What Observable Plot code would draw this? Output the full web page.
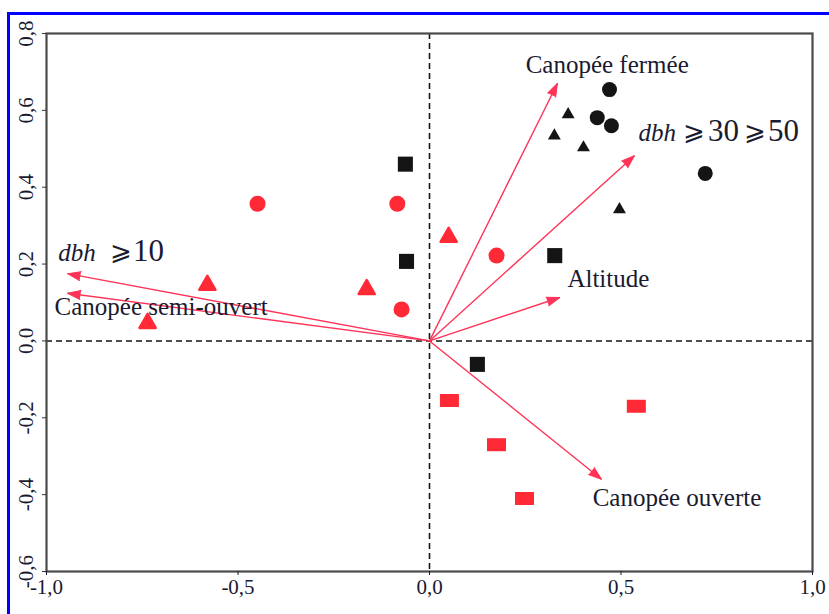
<!DOCTYPE html>
<html>
<head>
<meta charset="utf-8">
<script src="https://cdn.jsdelivr.net/npm/d3@7"></script>
<script src="https://cdn.jsdelivr.net/npm/@observablehq/plot@0.6"></script>
<style>
  html, body { margin: 0; padding: 0; background: #fff; }
  #wrap { position: relative; width: 829px; height: 614px; overflow: hidden; }
  #border { position: absolute; left: 7px; top: 12px; right: -20px; bottom: -20px;
            border-left: 3px solid #0000ff; border-top: 3px solid #0000ff; pointer-events: none; }
</style>
</head>
<body>
<div id="wrap"><div id="border"></div></div>
<script>
// ---- data ----
const xTicks = [-1, -0.5, 0, 0.5, 1];
const yTicks = [-0.6, -0.4, -0.2, 0, 0.2, 0.4, 0.6, 0.8];

const blackCircles   = [[0.47, 0.654], [0.438, 0.581], [0.475, 0.56], [0.72, 0.436]];
const blackTriangles = [[0.362, 0.589], [0.326, 0.534], [0.402, 0.503], [0.496, 0.342]];
const blackSquares   = [[-0.063, 0.46], [-0.06, 0.207], [0.327, 0.222], [0.125, -0.061]];
const redCircles     = [[-0.449, 0.357], [-0.084, 0.357], [0.175, 0.222], [-0.073, 0.082]];
const redTriangles   = [[-0.736, 0.046], [-0.58, 0.145], [-0.164, 0.134], [0.05, 0.27]];
const redSquares     = [[0.052, -0.155], [0.54, -0.17], [0.175, -0.27], [0.248, -0.41]];

const vectorNames = ["Canopée fermée", "dbh ⩾30 ⩾50", "Altitude", "Canopée ouverte", "dbh ⩾10", "Canopée semi-ouvert"];
const vectorX = [0.334, 0.535, 0.34, 0.449, -0.945, -0.945];
const vectorY = [0.670, 0.482, 0.113, -0.360, 0.175, 0.124];

// annotation anchors (data units, left-aligned)
const plainLabels = ["Canopée fermée", "Altitude", "Canopée ouverte", "Canopée semi-ouvert"];
const plainLabelX = [0.251, 0.360, 0.426, -0.979];
const plainLabelY = [0.717, 0.162, -0.410, 0.087];
const dbhLabelX = [0.546, -0.969];
const dbhLabelY = [0.547, 0.235];
const geqX = [0.662, 0.820, -0.834];
const geqY = [0.547, 0.547, 0.235];
const numText = ["30", "50", "10"];
const numX = [0.727, 0.884, -0.774];
const numY = [0.547, 0.547, 0.235];

// ---- build ----
const pts = a => a.map(([x, y]) => ({x, y}));
const vectors = vectorNames.map((name, i) => ({name, x: vectorX[i], y: vectorY[i]}));
const plain = plainLabels.map((t, i) => ({t, x: plainLabelX[i], y: plainLabelY[i]}));
const dbh = dbhLabelX.map((x, i) => ({x, y: dbhLabelY[i]}));
const geq = geqX.map((x, i) => ({x, y: geqY[i]}));
const nums = numText.map((t, i) => ({t, x: numX[i], y: numY[i]}));

const RED = "#ff2a36";
const ARROW = "#ff3358";
const BLACK = "#141414";
const TXT = "#1a1a30";
const fmt = d => d.toFixed(1).replace(".", ",");

const rectSymbol = { draw(ctx) { ctx.rect(-9.5, -6.5, 19, 13); } };

const chart = Plot.plot({
  width: 829,
  height: 614,
  marginLeft: 46,
  marginRight: 17,
  marginTop: 33,
  marginBottom: 43,
  x: {domain: [-1, 1], label: null},
  y: {domain: [-0.6, 0.8], label: null},
  style: {fontFamily: "'Liberation Serif', 'Times New Roman', serif", background: "transparent", color: "#333"},
  marks: [
    Plot.ruleX([0], {stroke: BLACK, strokeWidth: 1.6, strokeDasharray: "6,4"}),
    Plot.ruleY([0], {stroke: BLACK, strokeWidth: 1.6, strokeDasharray: "6,4"}),
    Plot.frame({stroke: "#4a4a4a", strokeWidth: 2.2}),
    Plot.axisX({ticks: xTicks, tickFormat: fmt, tickSize: 4, tickPadding: 4, fontSize: 21, color: TXT, label: null}),
    Plot.axisY({ticks: yTicks, tickFormat: () => "", tickSize: 4, label: null}),
    Plot.text(yTicks, {x: -1, y: d => d, text: fmt, rotate: -90, dx: -20, fontSize: 21, fill: TXT}),
    // arrows
    Plot.link(vectors, {x1: 0, y1: 0, x2: "x", y2: "y", stroke: ARROW, strokeWidth: 1.4}),
    Plot.vector(vectors, {x: "x", y: "y", rotate: d => Math.atan2(d.x, d.y) * 180 / Math.PI,
      length: 13, r: 4.5, shape: "spike", anchor: "end", fill: ARROW, stroke: ARROW, strokeWidth: 1}),
    // points
    Plot.dot(pts(redCircles), {x: "x", y: "y", r: 8, fill: RED, symbol: "circle"}),
    Plot.dot(pts(redTriangles), {x: "x", y: "y", r: 6, fill: RED, stroke: RED, strokeWidth: 2.5, strokeLinejoin: "round", symbol: "triangle"}),
    Plot.dot(pts(redSquares), {x: "x", y: "y", fill: RED, symbol: rectSymbol}),
    Plot.dot(pts(blackCircles), {x: "x", y: "y", r: 7.5, fill: BLACK, symbol: "circle"}),
    Plot.dot(pts(blackTriangles), {x: "x", y: "y", r: 4.8, fill: BLACK, symbol: "triangle"}),
    Plot.dot(pts(blackSquares), {x: "x", y: "y", r: 8.5, fill: BLACK, symbol: "square"}),
    // labels
    Plot.text(plain, {x: "x", y: "y", text: "t", textAnchor: "start", fontSize: 25, fill: TXT}),
    Plot.text(dbh, {x: "x", y: "y", text: () => "dbh", textAnchor: "start", fontSize: 25, fontStyle: "italic", fill: TXT, dy: 2}),
    Plot.text(geq, {x: "x", y: "y", text: () => "⩾", textAnchor: "start", fontSize: 26, fill: TXT, dy: 1}),
    Plot.text(nums, {x: "x", y: "y", text: "t", textAnchor: "start", fontSize: 31, fill: TXT})
  ]
});
document.getElementById("wrap").prepend(chart);
</script>
</body>
</html>
